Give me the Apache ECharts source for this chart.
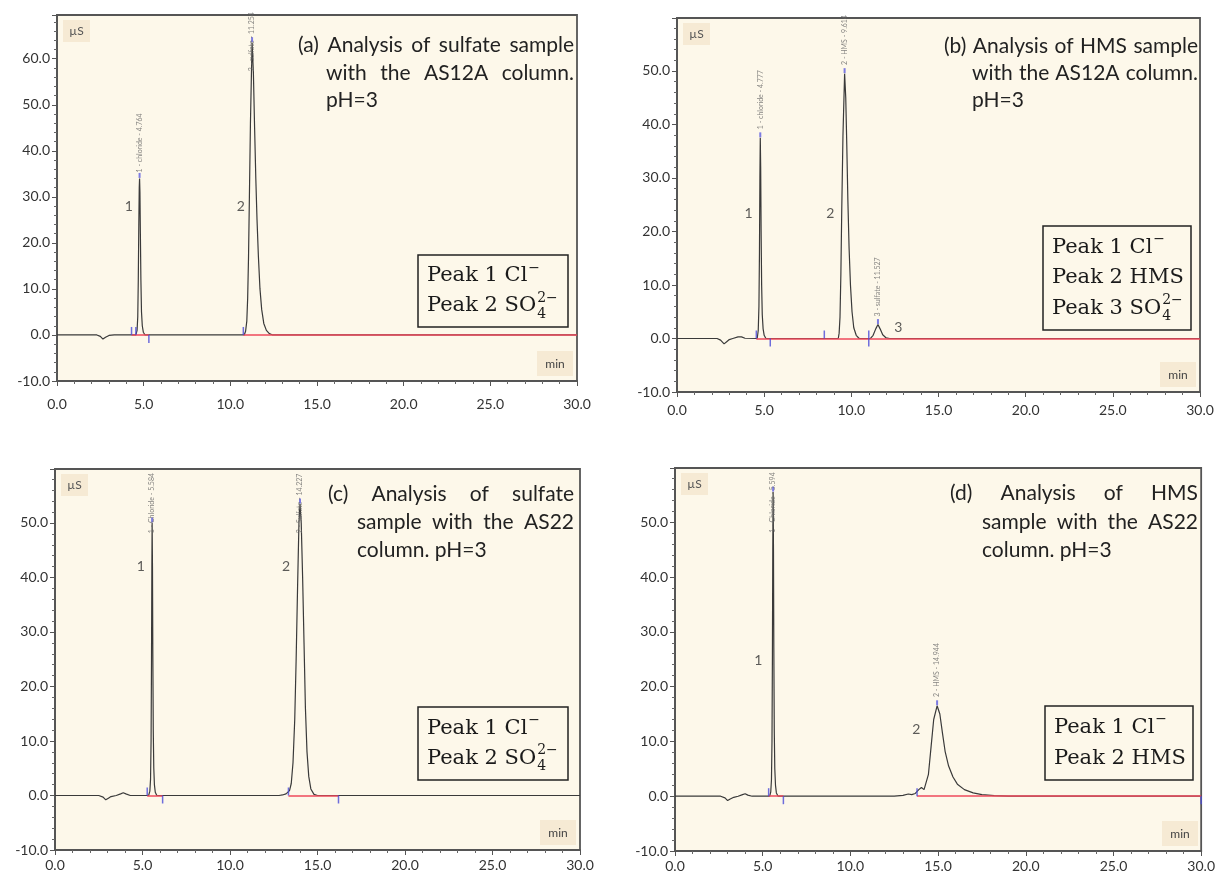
<!DOCTYPE html>
<html>
<head>
<meta charset="utf-8">
<script src="https://cdn.jsdelivr.net/npm/echarts@6/dist/echarts.min.js"></script>
<style>
  html, body { margin: 0; background: #fff; }
  #chart { width: 1218px; height: 873px; }
</style>
</head>
<body>
<div id="chart"></div>
<script>
// chromatograms: [retention time (min), conductivity (µS)]
const traceA = [
  [0, 0], [2.3, 0], [2.5, -0.3], [2.65, -0.9], [2.8, -0.5], [3.0, -0.1], [3.3, 0],
  [4.55, 0], [4.62, 1], [4.66, 4], [4.69, 12], [4.72, 24], [4.745, 32], [4.764, 34],
  [4.785, 31], [4.81, 22], [4.84, 12], [4.875, 5], [4.92, 2], [4.98, 0.6], [5.08, 0],
  [10.8, 0], [10.88, 0.8], [10.95, 3], [11.0, 8], [11.05, 17], [11.1, 30], [11.16, 46],
  [11.254, 63.5], [11.33, 57], [11.4, 45], [11.47, 34], [11.54, 25], [11.62, 17],
  [11.71, 10], [11.81, 5.5], [11.93, 2.5], [12.08, 1], [12.25, 0.3], [12.45, 0], [30, 0]
];
const traceB = [
  [0, 0], [2.3, 0], [2.5, -0.3], [2.7, -1.0], [2.85, -0.6], [3.0, -0.2], [3.2, 0],
  [3.5, 0.3], [3.7, 0.3], [3.9, 0.05], [4.6, 0], [4.66, 1.5], [4.7, 6], [4.73, 16],
  [4.755, 30], [4.777, 37.5], [4.8, 32], [4.825, 20], [4.855, 10], [4.89, 4.5],
  [4.94, 1.8], [5.0, 0.6], [5.1, 0], [9.25, 0], [9.3, 1], [9.35, 4], [9.4, 12],
  [9.45, 24], [9.52, 38], [9.614, 49.5], [9.68, 45], [9.74, 36], [9.8, 26], [9.87, 17],
  [9.95, 10], [10.04, 5], [10.14, 2], [10.28, 0.6], [10.45, 0], [11.1, 0], [11.25, 0.6],
  [11.4, 1.8], [11.527, 2.6], [11.65, 1.8], [11.8, 0.7], [12.0, 0.1], [12.2, 0], [30, 0]
];
const traceC = [
  [0, 0], [2.5, 0], [2.75, -0.3], [2.9, -0.8], [3.05, -0.5], [3.2, -0.2], [3.5, 0],
  [3.75, 0.3], [3.9, 0.5], [4.05, 0.3], [4.3, 0], [5.35, 0], [5.42, 0.8], [5.46, 3],
  [5.49, 10], [5.515, 25], [5.535, 42], [5.55, 50], [5.57, 42], [5.59, 26], [5.615, 12],
  [5.645, 5], [5.68, 2], [5.73, 0.6], [5.82, 0], [12.8, 0], [13.0, 0.1], [13.2, 0.3],
  [13.3, 0.5], [13.4, 0.9], [13.5, 2.2], [13.6, 6], [13.7, 14], [13.78, 25], [13.86, 38],
  [13.94, 50], [14.0, 53.5], [14.07, 50], [14.15, 40], [14.23, 28], [14.31, 16],
  [14.4, 8], [14.5, 3.5], [14.62, 1.2], [14.8, 0.2], [15.0, 0], [30, 0]
];
const traceD = [
  [0, 0], [2.6, 0], [2.85, -0.3], [3.0, -0.8], [3.15, -0.5], [3.35, -0.2], [3.6, 0],
  [3.85, 0.3], [4.0, 0.45], [4.15, 0.2], [4.4, 0], [5.4, 0], [5.46, 0.8], [5.5, 3],
  [5.53, 10], [5.555, 26], [5.575, 45], [5.594, 55.5], [5.615, 45], [5.635, 27],
  [5.66, 12], [5.69, 5], [5.73, 2], [5.78, 0.6], [5.88, 0], [12.5, 0], [13.0, 0.15],
  [13.3, 0.4], [13.5, 0.3], [13.7, 0.5], [13.9, 1.2], [14.05, 1.6], [14.2, 1.2],
  [14.3, 1.5], [14.45, 4], [14.6, 9], [14.75, 14], [14.944, 16.5], [15.1, 15],
  [15.25, 11.5], [15.4, 8.2], [15.6, 5.5], [15.85, 3.5], [16.1, 2.2], [16.5, 1.2],
  [17, 0.6], [17.5, 0.3], [18.2, 0.1], [19, 0], [30, 0]
];

// peak apex tags: [time, apex, label start, text]
const tagsA = [[4.764, 34, 34, '1 - chloride - 4.764'], [11.254, 63.5, 56, '2 - sulfate - 11.254']];
const tagsB = [[4.777, 37.5, 38, '1 - chloride - 4.777'], [9.614, 49.5, 50, '2 - HMS - 9.614'], [11.527, 2.6, 3, '3 - sulfate - 11.527']];
const tagsC = [[5.55, 50, 47, '1 - Chloride - 5.584'], [14.0, 53.5, 47, '2 - Sulfate - 14.227']];
const tagsD = [[5.594, 55.5, 47, '1 - Chloride - 5.594'], [14.944, 16.5, 17, '2 - HMS - 14.944']];

// peak numbers written next to the peaks: [time, signal, text]
const numsA = [[4.15, 28, '1'], [10.6, 28, '2']];
const numsB = [[4.1, 23.3, '1'], [8.8, 23.3, '2'], [12.7, 2.1, '3']];
const numsC = [[4.9, 42, '1'], [13.2, 42, '2']];
const numsD = [[4.75, 24.8, '1'], [13.76, 12.2, '2']];

// integration cut marks (blue) above / below the baseline
const cutUpA = [4.3, 4.55, 10.75];
const cutDownA = [5.3];
const cutUpB = [4.55, 8.45, 11.0];
const cutDownB = [5.35, 11.0];
const cutUpC = [5.27, 13.34];
const cutDownC = [6.15, 16.2];
const cutUpD = [5.34, 13.8];
const cutDownD = [6.18, 30];

// red integration baselines [from, to]
const redA = [[4.3, 5.3], [10.75, 30]];
const redB = [[4.55, 30]];
const redC = [[5.27, 6.15], [13.34, 16.2]];
const redD = [[5.34, 6.18], [13.8, 30]];

const descA = ['(a) Analysis of sulfate sample', 'with the AS12A column.', 'pH=3'];
const descB = ['(b) Analysis of HMS sample', 'with the AS12A column.', 'pH=3'];
const descC = ['(c) Analysis of sulfate', 'sample with the AS22', 'column. pH=3'];
const descD = ['(d) Analysis of HMS', 'sample with the AS22', 'column. pH=3'];

// legend rows: [text, superscript, subscript]
const legA = [['Peak 1 Cl', '\u2212', ''], ['Peak 2 SO', '2\u2212', '4']];
const legB = [['Peak 1 Cl', '\u2212', ''], ['Peak 2 HMS', '', ''], ['Peak 3 SO', '2\u2212', '4']];
const legC = [['Peak 1 Cl', '\u2212', ''], ['Peak 2 SO', '2\u2212', '4']];
const legD = [['Peak 1 Cl', '\u2212', ''], ['Peak 2 HMS', '', '']];

const panels = [
  {
    trace: traceA, tags: tagsA, nums: numsA, up: cutUpA, down: cutDownA, red: redA, desc: descA, leg: legA,
    yMax: 69.5, grid: { left: 57, top: 15, width: 520, height: 366 }, labelGap: 16,
    lines: [{ x: 298, y: 45, r: 574 }, { x: 326, y: 73, r: 574 }, { x: 326, y: 100 }],
    box: { x: 418, y: 255, w: 150, h: 72 }
  },
  {
    trace: traceB, tags: tagsB, nums: numsB, up: cutUpB, down: cutDownB, red: redB, desc: descB, leg: legB,
    yMax: 59.9, grid: { left: 677, top: 18, width: 523, height: 374 }, labelGap: 11,
    lines: [{ x: 944, y: 46, r: 1198 }, { x: 972, y: 73, r: 1198 }, { x: 972, y: 100 }],
    box: { x: 1043, y: 226, w: 148, h: 104 }
  },
  {
    trace: traceC, tags: tagsC, nums: numsC, up: cutUpC, down: cutDownC, red: redC, desc: descC, leg: legC,
    yMax: 59.9, grid: { left: 55, top: 469, width: 525, height: 381 }, labelGap: 8,
    lines: [{ x: 328, y: 494, r: 574 }, { x: 357, y: 522, r: 574 }, { x: 357, y: 550 }],
    box: { x: 418, y: 707, w: 150, h: 73 }
  },
  {
    trace: traceD, tags: tagsD, nums: numsD, up: cutUpD, down: cutDownD, red: redD, desc: descD, leg: legD,
    yMax: 59.9, grid: { left: 675, top: 468, width: 527, height: 383 }, labelGap: 8,
    lines: [{ x: 950, y: 493, r: 1198 }, { x: 982, y: 522, r: 1198 }, { x: 982, y: 550 }],
    box: { x: 1045, y: 706, w: 148, h: 74 }
  }
];

const SANS = 'Lato';
const DESC_FONT = '21px Lato';
const LEG_FONT = '21px "DejaVu Serif"';
const SMALL_FONT = '14px "DejaVu Serif"';

const measureCtx = document.createElement('canvas').getContext('2d');
function textWidth(str, font) {
  measureCtx.font = font;
  return measureCtx.measureText(str).width;
}

function txt(x, y, text, font, fill, align) {
  return {
    type: 'text', x: x, y: y, z: 50,
    style: {
      text: text, font: font, fill: fill,
      align: align || 'left', verticalAlign: 'middle',
      textAlign: align || 'left', textVerticalAlign: 'middle'
    }
  };
}

// justified line: spread words so the line runs from x to r
function descLine(str, pos) {
  if (!pos.r) return [txt(pos.x, pos.y, str, DESC_FONT, '#222')];
  const words = str.split(' ');
  const widths = words.map(w => textWidth(w, DESC_FONT));
  const total = widths.reduce((a, b) => a + b, 0);
  const gap = (pos.r - pos.x - total) / (words.length - 1);
  let cx = pos.x;
  return words.map((w, k) => {
    const el = txt(cx, pos.y, w, DESC_FONT, '#222');
    cx += widths[k] + gap;
    return el;
  });
}

const grids = [], xAxes = [], yAxes = [], series = [], graphics = [];

panels.forEach((p, i) => {
  const g = p.grid;
  grids.push({
    left: g.left, top: g.top, width: g.width, height: g.height,
    show: true, backgroundColor: '#fdf8ea', borderColor: '#555', borderWidth: 1.8
  });
  xAxes.push({
    gridIndex: i, type: 'value', min: 0, max: 30, interval: 5,
    axisLine: { onZero: false, lineStyle: { color: '#555', width: 2 } },
    axisTick: { length: 5, lineStyle: { color: '#555' } },
    minorTick: { show: true, splitNumber: 5, length: 3, lineStyle: { color: '#666' } },
    splitLine: { show: false },
    axisLabel: { formatter: v => v.toFixed(1), fontFamily: SANS, fontSize: 14, color: '#333', margin: p.labelGap }
  });
  yAxes.push({
    gridIndex: i, type: 'value', min: -10, max: p.yMax, interval: 10,
    axisLine: { lineStyle: { color: '#555', width: 2 } },
    axisTick: { length: 5, lineStyle: { color: '#555' } },
    minorTick: { show: true, splitNumber: 5, length: 3, lineStyle: { color: '#666' } },
    splitLine: { show: false },
    axisLabel: {
      formatter: v => (Math.abs(v / 10 - Math.round(v / 10)) < 1e-6 ? v.toFixed(1) : ''),
      fontFamily: SANS, fontSize: 14, color: '#333', margin: 7
    }
  });

  series.push({
    type: 'line', xAxisIndex: i, yAxisIndex: i, data: p.trace, showSymbol: false,
    lineStyle: { color: '#3a3a3a', width: 1.2 }, z: 3, animation: false
  });
  series.push({
    type: 'lines', coordinateSystem: 'cartesian2d', xAxisIndex: i, yAxisIndex: i,
    data: p.red.map(s => ({ coords: [[s[0], 0], [s[1], 0]] })),
    lineStyle: { color: '#ee4a5b', width: 1.5, opacity: 1 }, z: 4, animation: false
  });
  series.push({
    type: 'scatter', xAxisIndex: i, yAxisIndex: i, data: p.up.map(t => [t, 0]),
    symbol: 'rect', symbolSize: [1.5, 8], symbolOffset: [0, -4],
    itemStyle: { color: '#4a4ad8' }, z: 5, animation: false, silent: true
  });
  series.push({
    type: 'scatter', xAxisIndex: i, yAxisIndex: i, data: p.down.map(t => [t, 0]),
    symbol: 'rect', symbolSize: [1.5, 8], symbolOffset: [0, 4],
    itemStyle: { color: '#4a4ad8' }, z: 5, animation: false, silent: true
  });
  // apex markers
  series.push({
    type: 'scatter', xAxisIndex: i, yAxisIndex: i, data: p.tags.map(t => [t[0], t[1]]),
    symbol: 'rect', symbolSize: [2, 5], symbolOffset: [0, -3],
    itemStyle: { color: '#5b5be0' }, z: 6, animation: false, silent: true
  });
  // vertical peak labels
  series.push({
    type: 'scatter', xAxisIndex: i, yAxisIndex: i, data: p.tags.map(t => [t[0], t[2], t[3]]),
    symbolSize: 0, z: 6, animation: false, silent: true,
    label: {
      show: true, position: 'top', distance: 6, rotate: 90, align: 'left', verticalAlign: 'middle',
      formatter: q => q.data[2], fontFamily: SANS, fontSize: 7, color: '#666'
    }
  });
  // peak numbers
  series.push({
    type: 'scatter', xAxisIndex: i, yAxisIndex: i, data: p.nums,
    symbolSize: 0, z: 6, animation: false, silent: true,
    label: { show: true, position: 'inside', formatter: q => q.data[2], fontFamily: SANS, fontSize: 14, color: '#333' }
  });

  // unit boxes
  graphics.push({ type: 'rect', z: 40, shape: { x: g.left + 6, y: g.top + 5, width: 27, height: 22 }, style: { fill: '#f6ead4' } });
  graphics.push(txt(g.left + 19.5, g.top + 16, 'µS', '12px Lato', '#555', 'center'));
  const right = g.left + g.width, bottom = g.top + g.height;
  graphics.push({ type: 'rect', z: 40, shape: { x: right - 40, y: bottom - 30, width: 36, height: 25 }, style: { fill: '#f6ead4' } });
  graphics.push(txt(right - 22, bottom - 17, 'min', '12px Lato', '#444', 'center'));

  // description
  p.desc.forEach((line, k) => descLine(line, p.lines[k]).forEach(el => graphics.push(el)));

  // legend box
  const b = p.box;
  graphics.push({ type: 'rect', z: 40, shape: { x: b.x, y: b.y, width: b.w, height: b.h }, style: { fill: 'rgba(0,0,0,0)', stroke: '#222', lineWidth: 1.5 } });
  const rowH = (b.h - 12) / p.leg.length;
  p.leg.forEach((row, k) => {
    const ly = b.y + 6 + rowH * (k + 0.5);
    const lx = b.x + 9;
    graphics.push(txt(lx, ly, row[0], LEG_FONT, '#1a1a1a'));
    const w = textWidth(row[0], LEG_FONT) + 1;
    if (row[1]) graphics.push(txt(lx + w, ly - 8, row[1], SMALL_FONT, '#1a1a1a'));
    if (row[2]) graphics.push(txt(lx + w, ly + 8, row[2], SMALL_FONT, '#1a1a1a'));
  });
});

const chart = echarts.init(document.getElementById('chart'));
chart.setOption({
  backgroundColor: '#fff',
  animation: false,
  grid: grids,
  xAxis: xAxes,
  yAxis: yAxes,
  series: series,
  graphic: { elements: graphics }
});
</script>
</body>
</html>
